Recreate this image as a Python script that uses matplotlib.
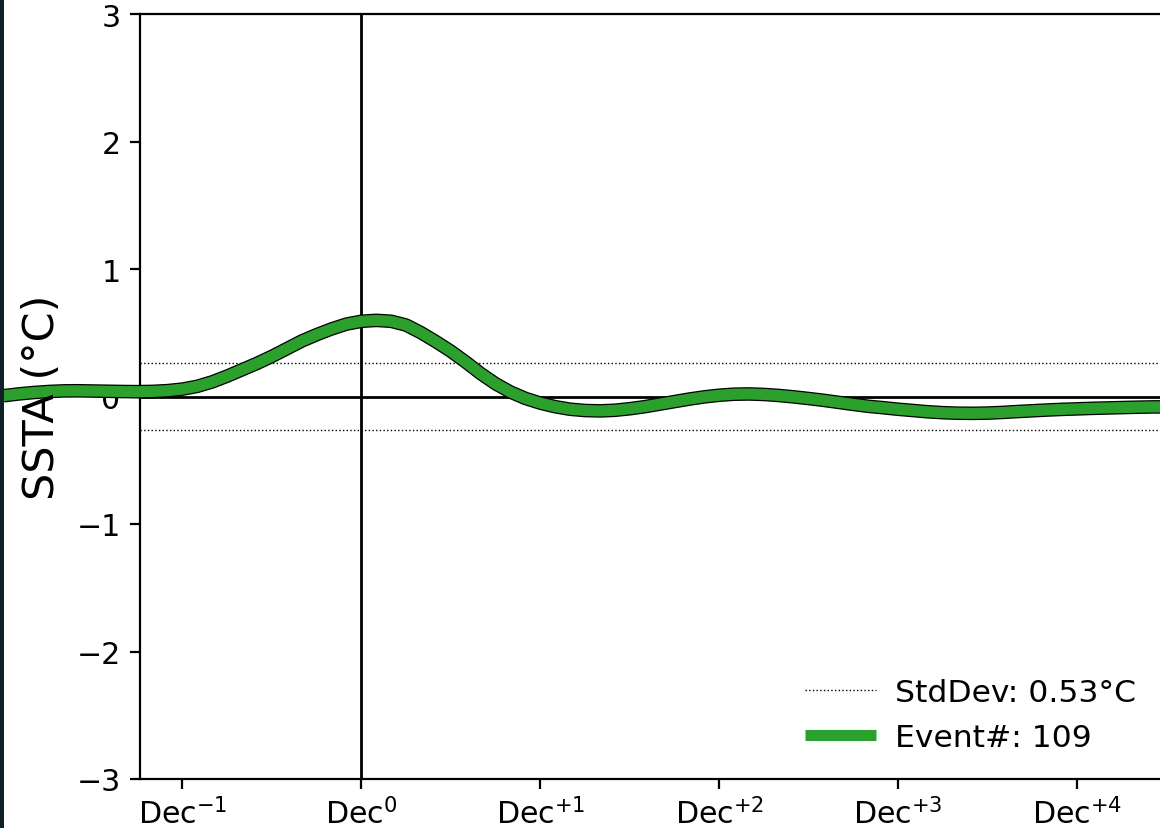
import matplotlib
matplotlib.use("Agg")
import matplotlib.pyplot as plt
from matplotlib.patches import Rectangle

# months relative to Dec of event year (Dec0 = 0)
months = list(range(-24, 55))
ssta = [0.006, 0.02, 0.031, 0.039, 0.044, 0.045, 0.043, 0.041, 0.039, 0.038,
        0.040, 0.046, 0.058, 0.08, 0.115, 0.16, 0.21, 0.26, 0.315, 0.375,
        0.435, 0.485, 0.53, 0.568, 0.59, 0.597, 0.59, 0.56, 0.50, 0.43,
        0.355, 0.27, 0.18, 0.10, 0.035, -0.015, -0.052, -0.08, -0.10, -0.11,
        -0.113, -0.108, -0.096, -0.08, -0.06, -0.04, -0.02, -0.003, 0.01, 0.018,
        0.02, 0.016, 0.008, -0.003, -0.016, -0.03, -0.046, -0.062, -0.077, -0.088,
        -0.10, -0.11, -0.12, -0.127, -0.131, -0.132, -0.13, -0.125, -0.118, -0.112,
        -0.106, -0.101, -0.097, -0.093, -0.09, -0.087, -0.084, -0.082, -0.081]

std_dev = 0.53
n_events = 109
tick_pos = [-12, 0, 12, 24, 36, 48]
tick_labels = ["Dec$^{-1}$", "Dec$^{0}$", "Dec$^{+1}$", "Dec$^{+2}$", "Dec$^{+3}$", "Dec$^{+4}$"]

W, H = 1160, 829
fig = plt.figure(figsize=(W / 200, H / 200), dpi=200)
# axes runs past the right edge, like the cropped original
ax = fig.add_axes([140 / W, 49 / H, 1116 / W, 765 / H])
ax.set_xlim(-14.85, 60)
ax.set_ylim(-3, 3)

ax.axhline(0, color="black", lw=1.0, zorder=1)
ax.axvline(0, color="black", lw=1.0, zorder=1)
ax.axhline(std_dev / 2, color="black", lw=0.5, ls=":", zorder=1,
           label="StdDev: %.2f°C" % std_dev)
ax.axhline(-std_dev / 2, color="black", lw=0.5, ls=":", zorder=1)

ax.plot(months, ssta, color="black", lw=4.9, solid_capstyle="butt",
        solid_joinstyle="round", clip_on=False, zorder=3)
ax.plot(months, ssta, color="#2ca02c", lw=4.0, solid_capstyle="butt",
        solid_joinstyle="round", clip_on=False, zorder=4,
        label="Event#: %d" % n_events)

ax.set_xticks(tick_pos)
ax.set_xticklabels(tick_labels)
ax.tick_params(labelsize=10.8)
ax.tick_params(axis="x", pad=2.8)
ax.set_yticks([-3, -2, -1, 0, 1, 2, 3])

fig.text(42 / W, 0.521, "SSTA (°C)", rotation=90, ha="center", va="center",
         fontsize=15.5)

ax.legend(loc="lower left", bbox_to_anchor=(777 / W, 48 / H),
          bbox_transform=fig.transFigure, frameon=False, fontsize=11.3,
          handlelength=2.25, handletextpad=0.62)

fig.patches.append(Rectangle((0, 0), 4 / W, 1, transform=fig.transFigure,
                             facecolor="#102028", edgecolor="none", zorder=0))

fig.savefig("out.png", dpi=200)
